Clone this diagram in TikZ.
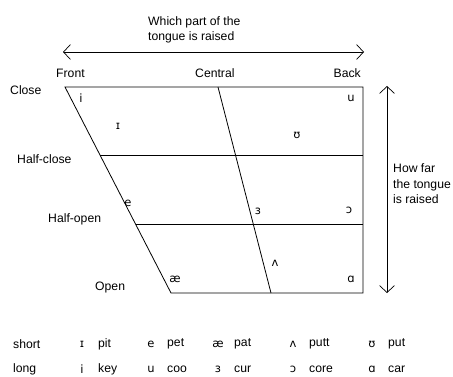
\documentclass[tikz,border=0pt]{standalone}
\usepackage{fontspec}
\setmainfont{Liberation Sans}
\newfontfamily\ipafont{DejaVu Sans}
\usetikzlibrary{arrows.meta,positioning}

\begin{document}
\begin{tikzpicture}[
  x=1pt, y=-1pt,
  lbl/.style={font=\fontsize{12.2}{15.5}\selectfont, inner sep=0pt, align=left},
  vow/.style={font=\ipafont\fontsize{11.5}{13}\selectfont, inner sep=0pt},
  ln/.style={line width=0.8pt},
  arr/.style={{Straight Barb[length=7pt,width=15pt]}-{Straight Barb[length=7pt,width=15pt]}, line width=0.7pt}
]
\useasboundingbox (0,0) rectangle (453,377);
% chart corners
\coordinate (tl) at (65,87);
\coordinate (tr) at (363,87);
\coordinate (br) at (363,293);
\coordinate (bl) at (171,293);
\coordinate (ct) at (218,87);
\coordinate (cb) at (271,293);
\coordinate (hcl) at (100,155);
\coordinate (hcr) at (363,155);
\coordinate (hol) at (136,224);
\coordinate (hor) at (363,224);
\draw[ln] (tl) -- (tr) -- (br) -- (bl) -- cycle;
\draw[ln] (ct) -- (cb);
\draw[ln] (hcl) -- (hcr);
\draw[ln] (hol) -- (hor);
% arrows
\coordinate (al) at (63,52);
\coordinate (ar) at (364,52);
\coordinate (at) at (387,86);
\coordinate (ab) at (387,293);
\draw[arr] (al) -- (ar);
\draw[arr] (at) -- (ab);
\node[lbl, anchor=west] (which) at (148,30) {Which part of the\\tongue is raised};
\node[lbl, anchor=west] (howfar) at (393,184) {How far\\the tongue\\is raised};
% labels
\node[lbl, anchor=west] (front) at (56,73) {Front};
\node[lbl, anchor=west] (central) at (195,73) {Central};
\node[lbl, anchor=east] (back) at (361,73) {Back};
\node[lbl, anchor=west] (close) at (10,90) {Close};
\node[lbl, anchor=west] (hclose) at (17,159) {Half-close};
\node[lbl, anchor=west] (hopen) at (48,219) {Half-open};
\node[lbl, anchor=west] (open) at (95,288) {Open};
% vowels
\node[vow] (vi) at (81,98) {i};
\node[vow] (vu) at (351,98) {u};
\node[vow] (vI) at (118,126) {ɪ};
\node[vow] (vU) at (297,135) {ʊ};
\node[vow] (ve) at (128,203) {e};
\node[vow] (v3) at (258,211) {ɜ};
\node[vow] (vo) at (349,210) {ɔ};
\node[vow] (vV) at (275,263) {ʌ};
\node[vow] (vae) at (175,279) {æ};
\node[vow] (va) at (351,279) {ɑ};
% key
\node[lbl, anchor=west] (short) at (13,344) {short};
\node[lbl, anchor=west] (long) at (13,369) {long};
\foreach \x/\s/\w/\l/\k in {82/ɪ/pit/i/key, 151/e/pet/u/coo, 218/æ/pat/ɜ/cur, 293/ʌ/putt/ɔ/core, 372/ʊ/put/ɑ/car}{
  \node[vow] (s\x) at (\x,344) {\s};
  \node[lbl, anchor=west] (sw\x) at (\x+16,344) {\w};
  \node[vow] (l\x) at (\x,369) {\l};
  \node[lbl, anchor=west] (lw\x) at (\x+16,369) {\k};
}
\end{tikzpicture}
\end{document}
